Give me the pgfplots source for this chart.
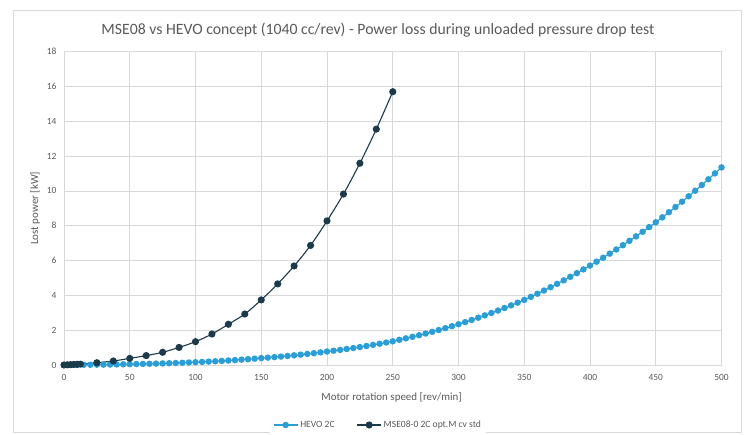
\documentclass[border=0pt]{standalone}
\usepackage{fontspec}
\setmainfont{Carlito}
\usepackage{pgfplots}
\pgfplotsset{compat=1.18}
\definecolor{hevo}{HTML}{2A9ED6}
\definecolor{mse}{HTML}{1B3A4A}
\definecolor{txt}{HTML}{595959}
\definecolor{grd}{HTML}{D9D9D9}
\begin{document}
\begin{tikzpicture}[x=1bp,y=1bp]
\useasboundingbox (-64,-70) rectangle (684,365);
\draw[grd,line width=0.8bp] (-51,-67) rectangle (677,355);
\node[txt,font=\fontsize{15.8}{18}\selectfont] at (314,335) {MSE08 vs HEVO concept (1040 cc/rev) - Power loss during unloaded pressure drop test};
\begin{axis}[
  at={(0,0)}, anchor=south west,
  width=657.5bp, height=313.3bp, scale only axis,
  xmin=0, xmax=500, ymin=0, ymax=18,
  xtick distance=50, ytick distance=2,
  grid=major, major grid style={grd,line width=0.8bp},
  axis line style={grd,line width=0.8bp},
  tick style={draw=none},
  ticklabel style={txt,font=\fontsize{9.5}{10}\selectfont},
  xticklabel style={yshift=-6bp},
  yticklabel style={xshift=-4bp},
  /pgf/number format/assume math mode=true,
  xlabel={Motor rotation speed [rev/min]},
  ylabel={Lost power [kW]},
  label style={txt,font=\fontsize{11}{12}\selectfont},
  xlabel style={at={(axis description cs:0.4982,-0.102)},anchor=center},
  ylabel style={at={(axis description cs:-0.0441,0.5)},anchor=center,rotate=0},
  legend columns=2,
  legend style={at={(axis description cs:0.4776,-0.1915)},anchor=center,draw=none,
    font=\fontsize{9.6}{11}\selectfont,text=txt,
    /tikz/every even column/.append style={column sep=20bp}},
  legend cell align=left,
  legend image code/.code={\draw[#1,mark repeat=2,mark phase=2] plot coordinates {(0bp,0bp) (12bp,0bp) (24bp,0bp)};},
]
\addplot[hevo,line width=1.2bp,mark=*,mark size=2.6bp,mark options={hevo}] table {
x y
0 0
5 0.004
10 0.007
15 0.011
20 0.015
25 0.019
30 0.023
35 0.028
40 0.034
45 0.040
50 0.046
55 0.054
60 0.062
65 0.070
70 0.080
75 0.091
80 0.102
85 0.115
90 0.129
95 0.144
100 0.161
105 0.177
110 0.194
115 0.214
120 0.234
125 0.257
130 0.281
135 0.307
140 0.334
145 0.364
150 0.395
155 0.423
160 0.453
165 0.485
170 0.519
175 0.555
180 0.594
185 0.635
190 0.679
195 0.725
200 0.774
205 0.820
210 0.868
215 0.919
220 0.974
225 1.031
230 1.091
235 1.155
240 1.221
245 1.291
250 1.364
255 1.446
260 1.531
265 1.619
270 1.711
275 1.807
280 1.907
285 2.010
290 2.117
295 2.228
300 2.344
305 2.464
310 2.588
315 2.717
320 2.850
325 2.987
330 3.128
335 3.274
340 3.425
345 3.580
350 3.740
355 3.915
360 4.094
365 4.279
370 4.468
375 4.662
380 4.862
385 5.067
390 5.276
395 5.492
400 5.712
405 5.935
410 6.163
415 6.397
420 6.637
425 6.882
430 7.133
435 7.390
440 7.653
445 7.922
450 8.197
455 8.484
460 8.777
465 9.076
470 9.382
475 9.694
480 10.013
485 10.338
490 10.669
495 11.008
500 11.353
};
\addlegendentry{HEVO 2C}
\addplot[mse,line width=1.1bp,smooth,mark=*,mark size=3bp,mark options={mse}] table {
x y
0 0.00
2.5 0.01
5 0.02
7.5 0.03
10 0.04
12.5 0.05
25 0.13
37.5 0.23
50 0.38
62.5 0.54
75 0.73
87.5 1.01
100 1.34
112.5 1.78
125 2.34
137.5 2.93
150 3.74
162.5 4.66
175 5.69
187.5 6.87
200 8.28
212.5 9.82
225 11.59
237.5 13.55
250 15.70
};
\addlegendentry{MSE08-0 2C opt.M cv std}
\end{axis}
\end{tikzpicture}
\end{document}
